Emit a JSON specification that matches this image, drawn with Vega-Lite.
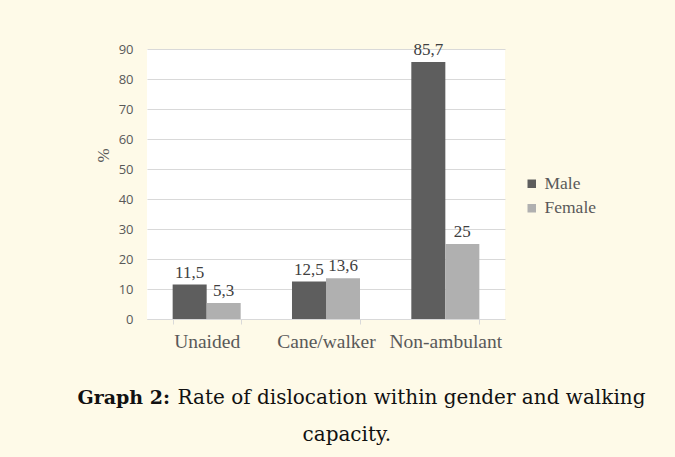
{
  "$schema": "https://vega.github.io/schema/vega-lite/v6.json",
  "width": 358,
  "height": 270,
  "autosize": {"type": "none"},
  "padding": {"left": 147, "top": 49, "right": 170, "bottom": 138},
  "background": "#fefae8",
  "data": {
    "values": [
      {"walking": "Unaided", "gender": "Male", "value": 11.5},
      {"walking": "Unaided", "gender": "Female", "value": 5.3},
      {"walking": "Cane/walker", "gender": "Male", "value": 12.5},
      {"walking": "Cane/walker", "gender": "Female", "value": 13.6},
      {"walking": "Non-ambulant", "gender": "Male", "value": 85.7},
      {"walking": "Non-ambulant", "gender": "Female", "value": 25}
    ]
  },
  "layer": [
    {
      "mark": {"type": "bar"},
      "encoding": {
        "x": {
          "field": "walking", "type": "nominal",
          "sort": ["Unaided", "Cane/walker", "Non-ambulant"],
          "scale": {"paddingInner": 0.43, "paddingOuter": 0.215},
          "axis": {
            "title": "Rate of dislocation within gender and walking",
            "labelAngle": 0,
            "domainColor": "#d9d9d9",
            "tickColor": "#d9d9d9",
            "tickSize": 5,
            "tickBand": "extent",
            "labelFont": "Liberation Serif",
            "labelFontSize": 19.5,
            "labelColor": "#595959",
            "labelBaseline": "alphabetic",
            "labelPadding": 23,
            "titleFont": "DejaVu Serif",
            "titleFontSize": 20,
            "titleFontWeight": "normal",
            "titleColor": "#111111",
            "titleAlign": "left",
            "titleBaseline": "alphabetic",
            "titleX": 30,
            "titleY": 84.3
          }
        },
        "xOffset": {"field": "gender", "type": "nominal", "sort": ["Male", "Female"]},
        "y": {
          "field": "value", "type": "quantitative",
          "scale": {"domain": [0, 90], "nice": false},
          "axis": {
            "title": "%",
            "values": [0, 10, 20, 30, 40, 50, 60, 70, 80, 90],
            "grid": true,
            "gridColor": "#d9d9d9",
            "domain": false,
            "ticks": false,
            "labelFont": "Open Sans",
            "labelFontSize": 13,
            "labelColor": "#595959",
            "labelPadding": 14,
            "titleFont": "Liberation Serif",
            "titleFontSize": 17,
            "titleFontWeight": "normal",
            "titleColor": "#595959",
            "titleAngle": -90,
            "titleAlign": "center",
            "titleBaseline": "middle",
            "titleX": -44,
            "titleY": 106
          }
        },
        "color": {
          "field": "gender", "type": "nominal",
          "scale": {"domain": ["Male", "Female"], "range": ["#5e5e5e", "#b0b0b0"]},
          "legend": {
            "orient": "none",
            "legendX": 376,
            "legendY": 126,
            "title": null,
            "symbolType": "square",
            "symbolSize": 72,
            "symbolStrokeWidth": 0,
            "labelFont": "Liberation Serif",
            "labelFontSize": 17.5,
            "labelColor": "#595959",
            "labelOffset": 4,
            "rowPadding": 5.5
          }
        }
      }
    },
    {
      "mark": {"type": "text", "font": "Liberation Serif", "fontSize": 17, "color": "#404040", "baseline": "alphabetic", "align": "center", "dy": -7},
      "encoding": {
        "x": {
          "field": "walking", "type": "nominal",
          "sort": ["Unaided", "Cane/walker", "Non-ambulant"],
          "axis": {
            "orient": "top",
            "title": "capacity.",
            "labels": false, "ticks": false, "domain": false, "grid": false,
            "titleFont": "DejaVu Serif",
            "titleFontSize": 20,
            "titleFontWeight": "normal",
            "titleColor": "#111111",
            "titleAlign": "left",
            "titleBaseline": "alphabetic",
            "titleX": 155,
            "titleY": 391.7
          }
        },
        "xOffset": {"field": "gender", "type": "nominal", "sort": ["Male", "Female"]},
        "y": {
          "field": "value", "type": "quantitative",
          "axis": {
            "orient": "right",
            "title": "Graph 2:",
            "labels": false, "ticks": false, "domain": false, "grid": false,
            "titleFont": "DejaVu Serif",
            "titleFontSize": 19,
            "titleFontWeight": "bold",
            "titleColor": "#111111",
            "titleAngle": 0,
            "titleAlign": "left",
            "titleBaseline": "alphabetic",
            "titleX": -428,
            "titleY": 354
          }
        },
        "text": {"field": "value", "type": "quantitative", "format": ".1~f"}
      }
    }
  ],
  "resolve": {"axis": {"x": "independent", "y": "independent"}},
  "config": {
    "view": {"stroke": null, "fill": "white"},
    "locale": {"number": {"decimal": ",", "thousands": ".", "grouping": [3], "currency": ["", ""]}}
  }
}
